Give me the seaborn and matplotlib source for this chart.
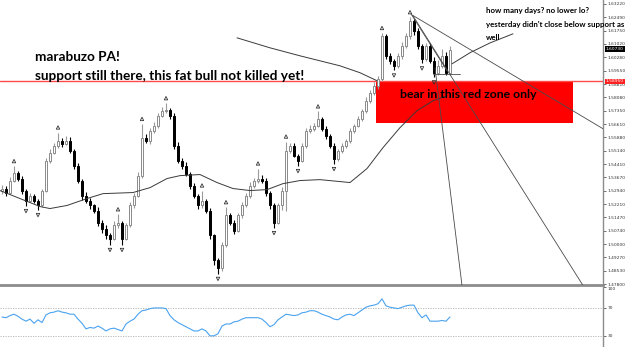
import numpy as np
import pandas as pd
import matplotlib
matplotlib.use("Agg")
import matplotlib.pyplot as plt
import seaborn as sns
from matplotlib.patches import Rectangle
import matplotlib.transforms as mtrans

# ---------------- data ----------------
first_open = 1.5290
closes = [1.5306, 1.5284, 1.5350, 1.5394, 1.5361, 1.5295, 1.5240, 1.5267, 1.5240, 1.5213,
          1.5295, 1.5460, 1.5504, 1.5542, 1.5569, 1.5553, 1.5569, 1.5514, 1.5432, 1.5350,
          1.5267, 1.5240, 1.5213, 1.5185, 1.5119, 1.5086, 1.5048, 1.5031, 1.5103, 1.5119,
          1.5031, 1.5103, 1.5213, 1.5267, 1.5377, 1.5586, 1.5569, 1.5624, 1.5652, 1.5707,
          1.5734, 1.5740, 1.5707, 1.5542, 1.5460, 1.5432, 1.5388, 1.5322, 1.5267, 1.5213,
          1.5240, 1.5185, 1.5048, 1.4911, 1.4867, 1.4993, 1.5158, 1.5119, 1.5075, 1.5158,
          1.5213, 1.5267, 1.5322, 1.5350, 1.5361, 1.5350, 1.5284, 1.5213, 1.5119, 1.5213,
          1.5295, 1.5514, 1.5542, 1.5487, 1.5460, 1.5542, 1.5624, 1.5635, 1.5652, 1.5690,
          1.5635, 1.5597, 1.5542, 1.5471, 1.5514, 1.5542, 1.5569, 1.5624, 1.5652, 1.5690,
          1.5734, 1.5789, 1.5833, 1.5871, 1.5910, 1.6146, 1.6036, 1.6009, 1.5981, 1.6036,
          1.6091, 1.6146, 1.6228, 1.6173, 1.6091, 1.6020, 1.6091, 1.6009, 1.5943, 1.5981,
          1.6036, 1.5943, 1.6069]
hi_wick = [20, 15, 20, 35, 10, 15, 10, 15, 10, 10, 10, 15, 20, 15, 45, 15, 25, 20, 10, 15,
           10, 20, 15, 10, 20, 15, 20, 15, 25, 45, 10, 15, 20, 15, 20, 75, 20, 15, 20, 15,
           20, 35, 10, 15, 20, 15, 20, 10, 15, 10, 55, 10, 15, 10, 15, 20, 45, 15, 15, 15,
           20, 15, 20, 15, 55, 20, 15, 10, 15, 15, 20, 50, 15, 15, 10, 15, 15, 20, 15, 40,
           10, 15, 10, 15, 10, 15, 10, 15, 10, 15, 10, 20, 15, 20, 15, 15, 10, 15, 10, 15,
           20, 15, 20, 10, 15, 10, 15, 15, 20, 30, 40, 20, 20]
lo_wick = [15, 20, 10, 10, 15, 20, 30, 10, 15, 25, 10, 10, 15, 10, 15, 20, 10, 15, 20, 15,
           25, 15, 20, 15, 20, 25, 20, 35, 10, 15, 35, 10, 10, 15, 10, 15, 15, 20, 10, 15,
           10, 15, 20, 20, 15, 20, 15, 20, 15, 20, 15, 15, 20, 25, 30, 15, 10, 15, 20, 10,
           15, 10, 15, 15, 15, 15, 20, 20, 30, 10, 25, 110, 15, 10, 30, 10, 15, 10, 15, 10,
           15, 20, 15, 30, 15, 10, 15, 10, 15, 10, 15, 10, 15, 10, 20, 10, 15, 20, 25, 10,
           15, 10, 15, 20, 15, 25, 10, 15, 25, 10, 10, 15, 10]
fractal_up = [3, 14, 29, 35, 41, 50, 56, 64, 71, 79, 95, 102]
fractal_down = [6, 9, 27, 30, 54, 68, 74, 83, 98, 105, 108]

ma_idx = [-0.5, 4.5, 9.5, 12, 16.25, 21.25, 25.25, 32.75, 37, 41.25, 44.5, 49.5, 53.75,
          57.75, 62, 66.25, 70.25, 74.5, 79.5, 87, 91.25, 95.25, 99.5, 103.75, 107.75, 111.25]
ma_price = [1.5295, 1.5251, 1.5207, 1.5196, 1.5213, 1.5251, 1.5278, 1.5284, 1.5311, 1.5361,
            1.5377, 1.5383, 1.5339, 1.5306, 1.5295, 1.5300, 1.5333, 1.5350, 1.5355, 1.5339,
            1.5416, 1.5531, 1.5641, 1.5734, 1.5789, 1.5816]
upper_idx = [58.75, 67, 74.5, 84.5, 89.5, 93.75]
upper_price = [1.6135, 1.6080, 1.6036, 1.5981, 1.5943, 1.5899]
note_idx = [112.5, 117, 122, 127.75]
note_price = [1.5992, 1.6053, 1.6107, 1.6157]

trend_lines = [((102.5, 1.6261), (150.25, 1.5635)),
               ((102.75, 1.6256), (145.25, 1.4773)),
               ((102.25, 1.6267), (111.25, 1.5954)),
               ((108.25, 1.5970), (115.0, 1.4773)),
               ((107.75, 1.5937), (114.5, 1.5937))]

support_level = 1.5895
zone_idx = (93.5, 142.75)
zone_price = (1.5665, 1.5895)
last_price = 1.6073

price_ticks = [1.47800, 1.48530, 1.49270, 1.50000, 1.50740, 1.51470, 1.52210, 1.52940,
               1.53670, 1.54410, 1.55140, 1.55880, 1.56610, 1.57350, 1.58080, 1.58810,
               1.59550, 1.60280, 1.61020, 1.61750, 1.62490, 1.63220]

rsi = [57, 56, 59, 61, 58, 54, 51, 54, 48, 53, 49, 60, 63, 64, 66, 64, 63, 61, 61, 54,
       48, 40, 42, 41, 44, 41, 37, 40, 41, 39, 37, 47, 51, 54, 61, 66, 67, 69, 70, 70,
       70, 69, 59, 53, 49, 46, 43, 40, 37, 37, 40, 37, 30, 30, 33, 44, 47, 47, 50, 51,
       54, 56, 56, 56, 56, 54, 49, 43, 46, 53, 57, 61, 60, 59, 60, 63, 64, 66, 66, 64,
       61, 59, 57, 54, 53, 57, 60, 61, 59, 63, 67, 71, 73, 74, 76, 83, 73, 71, 70, 69,
       71, 73, 74, 74, 63, 56, 60, 51, 51, 51, 52, 51, 57]
rsi_levels = [70, 30]
rsi_ticks = [100, 70, 30]

# ---------------- derived frame ----------------
n = len(closes)
idx = np.arange(n)
opens = [first_open] + closes[:-1]
df = pd.DataFrame({"idx": idx, "open": opens, "close": closes})
df["high"] = df[["open", "close"]].max(axis=1) + np.array(hi_wick) * 1e-4
df["low"] = df[["open", "close"]].min(axis=1) - np.array(lo_wick) * 1e-4
df["bull"] = df["close"] >= df["open"]

# ---------------- figure ----------------
sns.set_style("white")
plt.rcParams["font.family"] = ["DejaVu Sans"]
W, H = 625, 347
fig = plt.figure(figsize=(W / 100, H / 100), dpi=100)
fig.patch.set_facecolor("white")

ax = fig.add_axes([0, 1 - 285 / H, 603 / W, 285 / H])
ax2 = fig.add_axes([0, 0, 603 / W, 60 / H])

ylo, yhi = 1.6343 - 285 * 0.00055, 1.6343
ax.set_xlim(-0.5, 150.25)
ax.set_ylim(ylo, yhi)

# red zone
ax.add_patch(Rectangle((zone_idx[0], zone_price[0]), zone_idx[1] - zone_idx[0],
                       zone_price[1] - zone_price[0], facecolor="#ff0000",
                       edgecolor="none", zorder=1))
# support line
ax.axhline(support_level, color="#ff4a4a", lw=1.0, zorder=1.5)

# candles
bull = df[df["bull"]]
bear = df[~df["bull"]]
ax.vlines(bull["idx"], bull["low"], bull["high"], color="#9a9a9a", lw=0.8, zorder=2)
ax.vlines(bear["idx"], bear["low"], bear["high"], color="#000000", lw=0.8, zorder=2)
bh = (bull["close"] - bull["open"]).clip(lower=0.0004)
ax.bar(bull["idx"], bh, bottom=bull["open"], width=0.6, color="white",
       edgecolor="#8a8a8a", linewidth=0.7, zorder=3)
rh = (bear["open"] - bear["close"]).clip(lower=0.0004)
ax.bar(bear["idx"], rh, bottom=bear["close"], width=0.6, color="black",
       edgecolor="black", linewidth=0.7, zorder=3)

# fractals
up = df.loc[fractal_up]
dn = df.loc[fractal_down]
ax.scatter(up["idx"], up["high"] + 0.0028, marker="^", s=6, facecolors="none",
           edgecolors="#333333", linewidths=0.6, zorder=4)
ax.scatter(dn["idx"], dn["low"] - 0.0028, marker="v", s=6, facecolors="none",
           edgecolors="#333333", linewidths=0.6, zorder=4)

# moving average and curves
sns.lineplot(x=ma_idx, y=ma_price, ax=ax, color="#3a3a3a", lw=0.7, zorder=4)
sns.lineplot(x=upper_idx, y=upper_price, ax=ax, color="#3a3a3a", lw=0.7, zorder=4)
sns.lineplot(x=note_idx, y=note_price, ax=ax, color="#3a3a3a", lw=0.7, zorder=4)

for (x0, y0), (x1, y1) in trend_lines:
    ax.plot([x0, x1], [y0, y1], color="#4a4a4a", lw=0.6, zorder=4)

# axis styling main
for s in ["left", "top"]:
    ax.spines[s].set_visible(False)
ax.spines["right"].set_color("#8c8c8c")
ax.spines["right"].set_linewidth(1.0)
ax.spines["bottom"].set_color("#8c8c8c")
ax.spines["bottom"].set_linewidth(2.0)
ax.set_xticks([])
ax.yaxis.tick_right()
ax.set_yticks(price_ticks)
ax.set_yticklabels([f"{t:.5f}" for t in price_ticks])
ax.tick_params(axis="y", labelsize=3.2, length=2, width=0.6, color="#555555",
               labelcolor="#333333", pad=1.2)

trans = mtrans.blended_transform_factory(ax.transAxes, ax.transData)
ax.text(1.005, support_level, f"{support_level:.5f}", transform=trans, fontsize=3.2,
        color="white", va="center", ha="left", zorder=6, clip_on=False,
        bbox=dict(boxstyle="square,pad=0.2", fc="#ff2020", ec="none"))
ax.text(1.005, last_price, f"{last_price:.5f}", transform=trans, fontsize=3.2,
        color="white", va="center", ha="left", zorder=6, clip_on=False,
        bbox=dict(boxstyle="square,pad=0.2", fc="black", ec="none"))

# texts
bold = dict(family=["Lato", "DejaVu Sans"], fontweight="bold", color="black")
fig.text(35 / W, 1 - 57 / H, "marabuzo PA!", fontsize=9.8, va="center", ha="left", **bold)
fig.text(35 / W, 1 - 76 / H, "support still there, this fat bull not killed yet!",
         fontsize=9.8, va="center", ha="left", **bold)
fig.text(468 / W, 1 - 94 / H, "bear in this red zone only", fontsize=8.8,
         va="center", ha="center", **bold)
fig.text(486 / W, 1 - 11 / H, "how many days? no lower lo?", fontsize=5.7,
         va="center", ha="left", **bold)
fig.text(486 / W, 1 - 25 / H, "yesterday didn't close below support as", fontsize=5.7,
         va="center", ha="left", **bold)
fig.text(486 / W, 1 - 38 / H, "well", fontsize=5.7, va="center", ha="left", **bold)

# ---------------- RSI panel ----------------
ax2.set_xlim(-0.5, 150.25)
ax2.set_ylim(14, 100)
for lv in rsi_levels:
    ax2.axhline(lv, color="#b0b0b0", lw=0.6, ls=(0, (1.5, 1.5)))
sns.lineplot(x=idx, y=rsi, ax=ax2, color="#4aa3f0", lw=0.8)
for s in ["left", "top", "bottom"]:
    ax2.spines[s].set_visible(False)
ax2.spines["right"].set_color("#8c8c8c")
ax2.spines["right"].set_linewidth(1.0)
ax2.set_xticks([])
ax2.yaxis.tick_right()
ax2.set_yticks(rsi_ticks)
ax2.set_yticklabels([str(t) for t in rsi_ticks])
ax2.tick_params(axis="y", labelsize=3.2, length=2, width=0.6, color="#555555",
                labelcolor="#333333", pad=1.2)
for lab in ax2.get_yticklabels():
    if lab.get_text() == "100":
        lab.set_va("top")
ax2.set_ylabel("")
ax.set_ylabel("")

fig.savefig("out.png", dpi=100)
